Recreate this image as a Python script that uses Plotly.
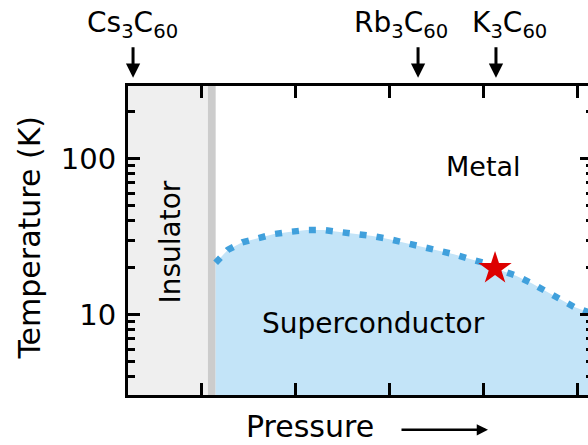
import math
import plotly.graph_objects as go

# Superconducting dome: Tc (K) versus relative pressure (arbitrary units)
pressure = [1.156, 1.284, 1.439, 1.610, 1.777, 1.954, 2.124, 2.301, 2.479, 2.656,
            2.827, 3.003, 3.170, 3.348, 3.518, 3.691, 3.854, 4.021, 4.128, 4.351,
            4.518, 4.670, 4.826, 4.971, 5.103, 5.180]
tc = [21.5, 26.0, 29.1, 31.0, 32.9, 34.0, 34.9, 34.9, 34.0, 32.9,
      31.9, 30.5, 28.9, 27.6, 25.7, 24.4, 22.8, 21.4, 19.8, 17.8,
      15.9, 14.2, 12.6, 11.2, 10.5, 10.0]

# Compounds marked along the pressure axis
compounds = ["Cs<sub>3</sub>C<sub>60</sub>", "Rb<sub>3</sub>C<sub>60</sub>", "K<sub>3</sub>C<sub>60</sub>"]
compound_pressure = [0.277, 3.309, 4.138]
label_shift = [-1, -17, 14]

# K3C60 transition point
star_pressure = [4.128]
star_tc = [19.8]

# Insulator / metal boundary (grey band)
insulator_edge = 1.074
boundary_edge = 1.156

x_range = [0.2234, 5.117]
y_range = [3.06, 292.0]
major_t = [10, 100]
minor_t = [3, 4, 5, 6, 7, 8, 9, 20, 30, 40, 50, 60, 70, 80, 90, 200]

FONT = "DejaVu Sans"
BLUE_LINE = "#40A0DC"
BLUE_FILL = "#C3E4F8"

fig = go.Figure()

fig.add_trace(go.Scatter(
    x=pressure, y=tc, mode="lines",
    line=dict(color=BLUE_LINE, width=6.5, dash="7px,10px"),
    fill="tozeroy", fillcolor=BLUE_FILL,
    hoverinfo="skip", showlegend=False,
))
fig.add_trace(go.Scatter(
    x=star_pressure, y=star_tc, mode="markers",
    marker=dict(symbol="star", size=25, color="#DD0000", line=dict(width=0)),
    showlegend=False,
))
# right-hand tick axis
fig.add_trace(go.Scatter(x=[None], y=[None], yaxis="y2", showlegend=False, hoverinfo="skip"))

fig.add_shape(type="rect", xref="x", yref="paper", x0=x_range[0], x1=insulator_edge,
              y0=0, y1=1, fillcolor="#EFEFEF", line=dict(width=0), layer="below")
fig.add_shape(type="rect", xref="x", yref="paper", x0=insulator_edge, x1=boundary_edge,
              y0=0, y1=1, fillcolor="#CCCCCC", line=dict(width=0), layer="below")

C = dict(xanchor="center", yanchor="middle", showarrow=False)
ann = []
ann.append(dict(text="Metal", x=4.0, y=math.log10(89.6), xref="x", yref="y",
                font=dict(size=27), **C))
ann.append(dict(text="Superconductor", x=2.838, y=math.log10(8.73), xref="x", yref="y",
                font=dict(size=28), **C))
ann.append(dict(text="Insulator", x=0.681, y=math.log10(29.0), xref="x", yref="y",
                textangle=-90, font=dict(size=28), **C))
ann.append(dict(text="Temperature (K)", x=-0.215, y=0.5097, xref="paper", yref="paper",
                textangle=-90, font=dict(size=30), **C))
ann.append(dict(text="Pressure", x=0.395, y=-0.1028, xref="paper", yref="paper",
                font=dict(size=30), **C))
ann.append(dict(text="", x=0.7826, y=-0.1125, xref="paper", yref="paper",
                showarrow=True, ax=-88, ay=0, arrowhead=2, arrowsize=0.9,
                arrowwidth=2.5, arrowcolor="black", standoff=0))
for name, p, dx in zip(compounds, compound_pressure, label_shift):
    ann.append(dict(text="", x=p, y=1.0268, xref="x", yref="paper",
                    showarrow=True, ax=0, ay=-32, arrowhead=2, arrowsize=0.95,
                    arrowwidth=3, arrowcolor="black", standoff=0))
    ann.append(dict(text=name, x=p, y=1.2, xref="x", yref="paper", xshift=dx,
                    font=dict(size=28), **C))

fig.update_layout(
    width=588, height=445,
    margin=dict(l=128, r=0, t=86, b=50),
    paper_bgcolor="white", plot_bgcolor="white",
    font=dict(family=FONT, color="black"),
    annotations=ann,
    xaxis=dict(range=x_range, showline=True, linewidth=3, linecolor="black",
               mirror="ticks", ticks="inside", tickvals=[1, 2, 3, 4, 5],
               ticklen=12, tickwidth=2.5, tickcolor="black",
               showticklabels=False, showgrid=False, zeroline=False),
    yaxis=dict(type="log", range=[math.log10(v) for v in y_range],
               showline=True, linewidth=3, linecolor="black",
               ticks="inside", tickvals=major_t, ticktext=[str(v) for v in major_t],
               ticklen=12, tickwidth=2.5, tickcolor="black", ticklabelstandoff=3,
               tickfont=dict(size=29), showgrid=False, zeroline=False,
               minor=dict(tickvals=minor_t, ticks="inside", ticklen=7,
                          tickwidth=2.5, tickcolor="black", showgrid=False)),
    yaxis2=dict(type="log", range=[math.log10(v) for v in y_range], overlaying="y",
                side="right", anchor="x", showline=False, ticks="inside",
                tickvals=major_t, ticklen=8, tickwidth=2.5, tickcolor="black",
                showticklabels=False, showgrid=False, zeroline=False,
                minor=dict(tickvals=minor_t, ticks="inside", ticklen=2,
                           tickwidth=2.5, tickcolor="black", showgrid=False)),
)

fig.write_html("out.html")
